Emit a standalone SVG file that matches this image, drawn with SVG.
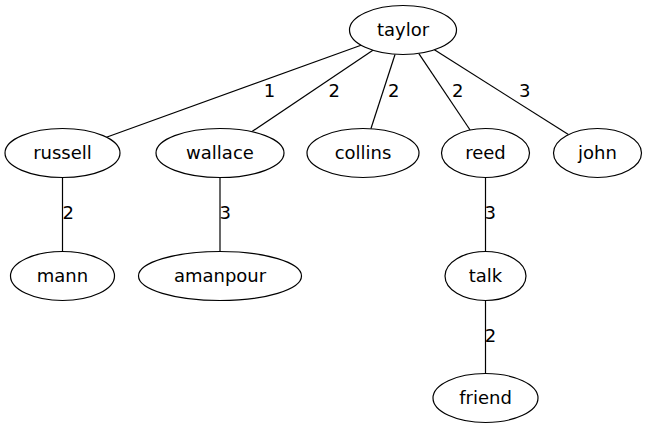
<svg xmlns="http://www.w3.org/2000/svg" width="647" height="429" viewBox="0 0 647 429">
<style>
.node ellipse{fill:#fff;stroke:#000;stroke-width:1.2}
.node text{font-family:"DejaVu Sans",sans-serif;font-size:18px;text-anchor:middle;fill:#000}
#edges line{stroke:#000;stroke-width:1.2}
#edges text{font-family:"DejaVu Sans",sans-serif;font-size:18px;text-anchor:middle;fill:#000}
</style>
<rect width="647" height="429" fill="#fff"/>
<g id="edges">
<line x1="361" y1="45.2" x2="106.4" y2="137.2"/>
<text x="269.5" y="97">1</text>
<line x1="372.9" y1="50.2" x2="251.7" y2="131.7"/>
<text x="334.3" y="97">2</text>
<line x1="395.1" y1="54.2" x2="370.9" y2="128.7"/>
<text x="393.7" y="97">2</text>
<line x1="418.7" y1="53.4" x2="470.1" y2="130"/>
<text x="457.8" y="97">2</text>
<line x1="434.4" y1="49.8" x2="568.4" y2="134.6"/>
<text x="524.7" y="97">3</text>
<line x1="62.5" y1="177.5" x2="62.5" y2="251.5"/>
<text x="68.3" y="219">2</text>
<line x1="220" y1="177.5" x2="220" y2="251.5"/>
<text x="225.3" y="219">3</text>
<line x1="485.5" y1="177.5" x2="485.5" y2="251.5"/>
<text x="490.3" y="219">3</text>
<line x1="485.5" y1="300.5" x2="485.5" y2="373.5"/>
<text x="490.5" y="341.5">2</text>
</g>
<g id="taylor" class="node"><ellipse cx="403" cy="30" rx="53.5" ry="24.5"/><text x="403" y="36">taylor</text></g>
<g id="russell" class="node"><ellipse cx="62.5" cy="153" rx="57.5" ry="24.5"/><text x="62.5" y="159">russell</text></g>
<g id="wallace" class="node"><ellipse cx="220" cy="153" rx="64" ry="24.5"/><text x="220" y="159">wallace</text></g>
<g id="collins" class="node"><ellipse cx="363" cy="153" rx="56" ry="24.5"/><text x="363" y="159">collins</text></g>
<g id="reed" class="node"><ellipse cx="485.5" cy="153" rx="44" ry="24.5"/><text x="485.5" y="159">reed</text></g>
<g id="john" class="node"><ellipse cx="597.5" cy="153" rx="44" ry="24.5"/><text x="597.5" y="159">john</text></g>
<g id="mann" class="node"><ellipse cx="62.5" cy="276" rx="52" ry="24.5"/><text x="62.5" y="282">mann</text></g>
<g id="amanpour" class="node"><ellipse cx="220" cy="276" rx="81.5" ry="24.5"/><text x="220" y="282">amanpour</text></g>
<g id="talk" class="node"><ellipse cx="485.5" cy="276" rx="40.5" ry="24.5"/><text x="485.5" y="282">talk</text></g>
<g id="friend" class="node"><ellipse cx="485.5" cy="398" rx="52.5" ry="24.5"/><text x="485.5" y="404">friend</text></g>
</svg>
